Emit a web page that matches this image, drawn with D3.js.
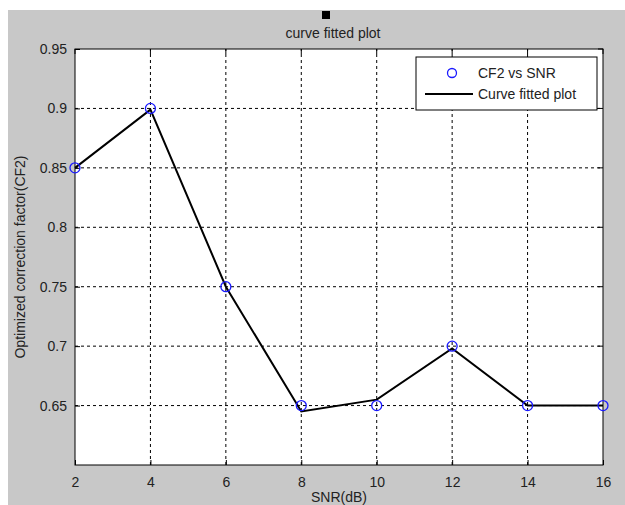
<!DOCTYPE html>
<html>
<head>
<meta charset="utf-8">
<script src="https://cdn.jsdelivr.net/npm/d3@7"></script>
<style>
  body { margin: 0; background: #fff; }
  text { font-family: "Liberation Sans", Arial, sans-serif; fill: #222; }
</style>
</head>
<body>
<div id="chart"></div>
<script>
// data
var snr = [2, 4, 6, 8, 10, 12, 14, 16];
var cf2 = [0.85, 0.9, 0.75, 0.65, 0.65, 0.7, 0.65, 0.65];
var fitted = [0.85, 0.899, 0.75, 0.645, 0.655, 0.698, 0.65, 0.65];
var xTicks = [2, 4, 6, 8, 10, 12, 14, 16];
var yTicks = [0.65, 0.7, 0.75, 0.8, 0.85, 0.9, 0.95];

var W = 625, H = 505;
var margin = { top: 49, right: 22, bottom: 40, left: 75 };

var svg = d3.select('#chart').append('svg')
  .attr('width', W)
  .attr('height', H);

// gray figure background
svg.append('rect')
  .attr('x', 8).attr('y', 10)
  .attr('width', W - 8).attr('height', H - 10)
  .attr('fill', '#c8c8c8');

var x = d3.scaleLinear().domain([2, 16]).range([margin.left, W - margin.right]);
var y = d3.scaleLinear().domain([0.6, 0.95]).range([H - margin.bottom, margin.top]);

// plot area
svg.append('rect')
  .attr('x', x(2)).attr('y', y(0.95))
  .attr('width', x(16) - x(2)).attr('height', y(0.6) - y(0.95))
  .attr('fill', '#fff');

// dashed grid
var grid = svg.append('g').attr('stroke', '#000').attr('stroke-width', 1).attr('stroke-dasharray', '3,3');
grid.selectAll('line.vx')
  .data(xTicks.slice(1, -1))
  .enter().append('line')
  .attr('x1', function (d) { return x(d); }).attr('x2', function (d) { return x(d); })
  .attr('y1', y(0.6)).attr('y2', y(0.95));
grid.selectAll('line.hy')
  .data(yTicks.slice(0, -1))
  .enter().append('line')
  .attr('y1', function (d) { return y(d); }).attr('y2', function (d) { return y(d); })
  .attr('x1', x(2)).attr('x2', x(16));

// axes with inward ticks
var xAxis = svg.append('g')
  .attr('transform', 'translate(0,' + y(0.6) + ')')
  .call(d3.axisBottom(x).tickValues(xTicks).tickSizeInner(-5).tickSizeOuter(0).tickPadding(12));
var yAxis = svg.append('g')
  .attr('transform', 'translate(' + x(2) + ',0)')
  .call(d3.axisLeft(y).tickValues(yTicks).tickSizeInner(-5).tickSizeOuter(0).tickPadding(8)
    .tickFormat(function (d) { return String(+d.toFixed(2)); }));
[xAxis, yAxis].forEach(function (a) {
  a.selectAll('text').style('font-size', '14px').attr('fill', '#222')
    .style('font-family', '"Liberation Sans", Arial, sans-serif');
  a.select('.domain').remove();
});

// box frame and top/right ticks
svg.append('rect')
  .attr('x', x(2)).attr('y', y(0.95))
  .attr('width', x(16) - x(2)).attr('height', y(0.6) - y(0.95))
  .attr('fill', 'none').attr('stroke', '#000').attr('stroke-width', 1);
svg.append('g').selectAll('line')
  .data(xTicks).enter().append('line')
  .attr('x1', function (d) { return x(d); }).attr('x2', function (d) { return x(d); })
  .attr('y1', y(0.95)).attr('y2', y(0.95) + 5).attr('stroke', '#000');
svg.append('g').selectAll('line')
  .data(yTicks).enter().append('line')
  .attr('y1', function (d) { return y(d); }).attr('y2', function (d) { return y(d); })
  .attr('x1', x(16)).attr('x2', x(16) - 5).attr('stroke', '#000');

// fitted curve
var line = d3.line()
  .x(function (d, i) { return x(snr[i]); })
  .y(function (d) { return y(d); });
svg.append('path')
  .datum(fitted)
  .attr('d', line)
  .attr('fill', 'none')
  .attr('stroke', '#000')
  .attr('stroke-width', 2);

// data markers
svg.append('g').selectAll('circle')
  .data(cf2).enter().append('circle')
  .attr('cx', function (d, i) { return x(snr[i]); })
  .attr('cy', function (d) { return y(d); })
  .attr('r', 5)
  .attr('fill', 'none')
  .attr('stroke', '#1a1aff')
  .attr('stroke-width', 1.3);

// title and little black square
svg.append('rect').attr('x', 322).attr('y', 11).attr('width', 8).attr('height', 8).attr('fill', '#000');
svg.append('text')
  .attr('x', 333).attr('y', 38)
  .attr('text-anchor', 'middle')
  .style('font-size', '14px')
  .text('curve fitted plot');

// axis labels
svg.append('text')
  .attr('x', (x(2) + x(16)) / 2).attr('y', 502)
  .attr('text-anchor', 'middle')
  .style('font-size', '14px')
  .text('SNR(dB)');
svg.append('text')
  .attr('transform', 'translate(25,' + ((y(0.6) + y(0.95)) / 2) + ') rotate(-90)')
  .attr('text-anchor', 'middle')
  .style('font-size', '14px')
  .text('Optimized correction factor(CF2)');

// legend
var lg = svg.append('g');
lg.append('rect')
  .attr('x', 416).attr('y', 57).attr('width', 181).attr('height', 53)
  .attr('fill', '#fff').attr('stroke', '#000');
lg.append('circle')
  .attr('cx', 452).attr('cy', 73).attr('r', 4.5)
  .attr('fill', 'none').attr('stroke', '#1a1aff').attr('stroke-width', 1.3);
lg.append('text').attr('x', 478).attr('y', 78).style('font-size', '14px').text('CF2 vs SNR');
lg.append('line')
  .attr('x1', 425).attr('x2', 473).attr('y1', 94).attr('y2', 94)
  .attr('stroke', '#000').attr('stroke-width', 2);
lg.append('text').attr('x', 478).attr('y', 99).style('font-size', '14px').text('Curve fitted plot');
</script>
</body>
</html>
